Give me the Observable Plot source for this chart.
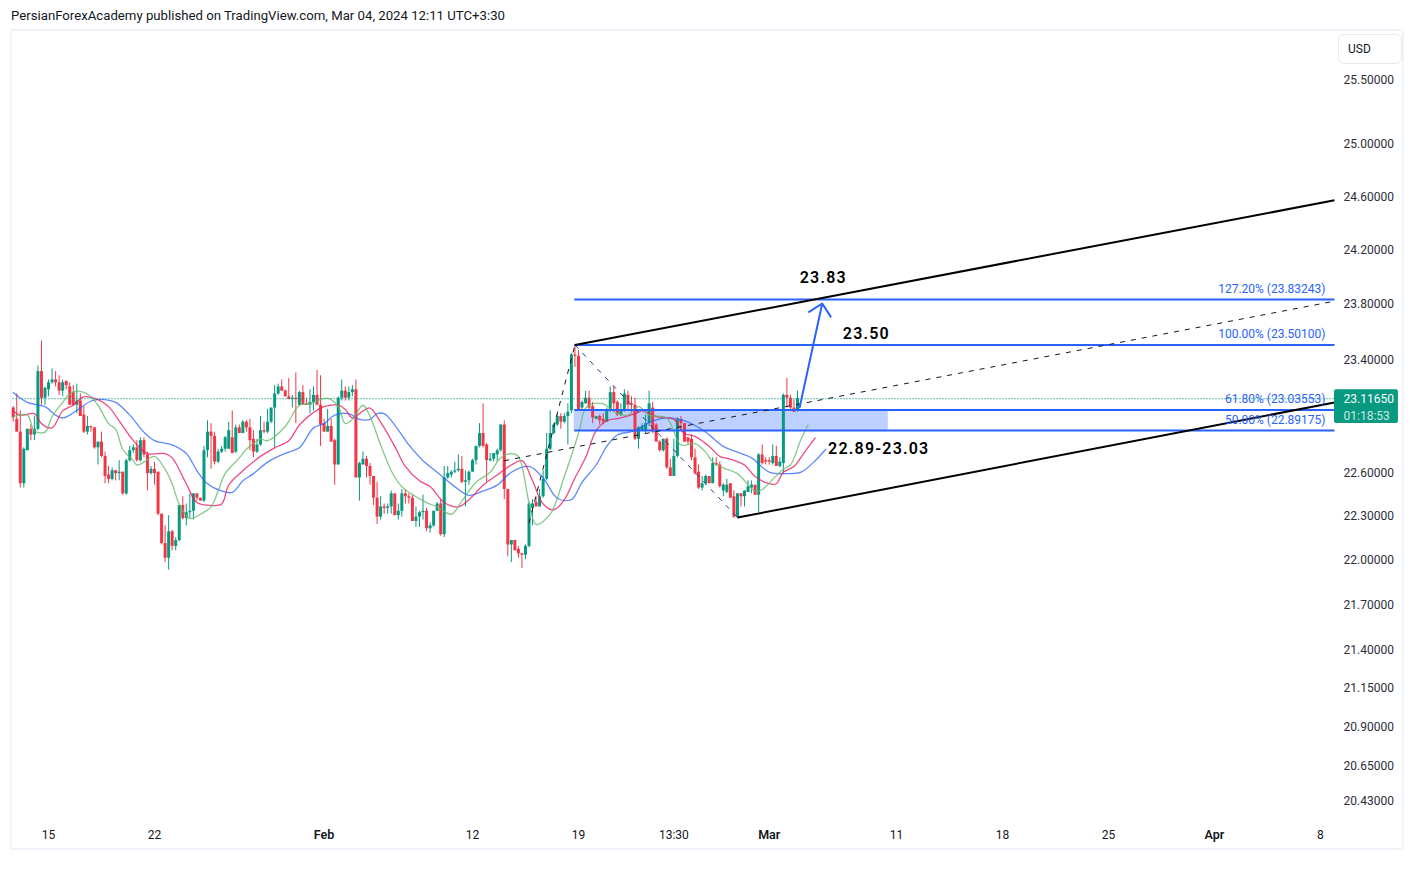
<!DOCTYPE html>
<html><head><meta charset="utf-8">
<style>
html,body{margin:0;padding:0;background:#fff;width:1414px;height:887px;overflow:hidden}
#chart{position:absolute;left:0;top:0}
#head{position:absolute;left:11px;top:8px;font:13.2px Roboto,sans-serif;color:#131722;white-space:nowrap}
#frame{position:absolute;left:10px;top:29px;width:1390px;height:817px;border:2px solid #f0f3fa;border-radius:2px;pointer-events:none}
#usd{position:absolute;left:1338px;top:34px;width:62px;height:28px;border:1px solid #e8eaf0;border-radius:6px;font:12px Roboto,sans-serif;color:#131722;line-height:28px;text-indent:9px;background:#fff}
</style>
<script src="https://cdn.jsdelivr.net/npm/d3@7"></script>
<script src="https://cdn.jsdelivr.net/npm/@observablehq/plot@0.6"></script>
</head><body>
<div id="head">PersianForexAcademy published on TradingView.com, Mar 04, 2024 12:11 UTC+3:30</div>
<div id="frame"></div>
<div id="chart"></div>
<div id="usd">USD</div>
<script>
const opens=[
23.05,22.97,22.88,22.52,22.75,22.90,22.86,22.90,23.31,23.12,
23.18,23.23,23.25,23.23,23.17,23.24,23.20,23.16,23.07,23.10,
23.00,22.88,22.92,22.91,22.77,22.81,22.71,22.58,22.55,22.61,
22.59,22.60,22.45,22.68,22.75,22.77,22.68,22.82,22.72,22.59,
22.62,22.60,22.31,22.11,22.01,22.19,22.09,22.13,22.37,22.28,
22.32,22.33,22.45,22.42,22.40,22.75,22.88,22.85,22.67,22.74,
22.76,22.76,22.84,22.74,22.91,22.87,22.95,22.91,22.83,22.74,
22.79,22.89,22.88,22.95,23.05,23.15,23.20,23.17,23.13,23.11,
23.12,23.07,23.16,23.08,23.07,23.09,23.14,23.07,22.94,22.88,
22.92,22.82,22.65,23.12,23.17,23.12,23.16,23.18,22.56,22.65,
22.69,22.64,22.57,22.42,22.29,22.36,22.35,22.36,22.45,22.30,
22.33,22.45,22.43,22.42,22.26,22.29,22.32,22.33,22.21,22.23,
22.33,22.38,22.17,22.56,22.58,22.60,22.61,22.62,22.53,22.54,
22.60,22.68,22.78,22.87,22.79,22.68,22.69,22.72,22.75,22.93,
22.48,22.10,22.13,22.07,22.04,22.03,22.09,22.35,22.39,22.36,
22.43,22.55,22.76,22.87,22.93,22.99,22.95,22.99,23.03,23.43,
23.42,23.05,23.08,23.12,23.06,22.97,22.99,22.97,22.95,23.03,
23.16,23.09,23.00,23.03,23.14,23.08,23.07,22.83,22.89,22.89,
22.94,23.05,22.93,22.81,22.75,22.83,22.63,22.57,22.71,22.97,
22.94,22.84,22.83,22.70,22.60,22.49,22.52,22.57,22.52,22.66,
22.65,22.47,22.46,22.52,22.43,22.29,22.45,22.43,22.46,22.49,
22.51,22.44,22.72,22.68,22.68,22.66,22.71,22.64,22.66,23.14,
23.12,23.05,23.03];
const highs=[
23.06,23.15,23.03,22.77,22.90,22.93,22.99,23.35,23.53,23.20,
23.25,23.33,23.31,23.28,23.25,23.24,23.23,23.21,23.22,23.15,
23.06,22.99,22.92,22.91,22.81,22.88,22.74,22.64,22.63,22.61,
22.68,22.60,22.69,22.78,22.79,22.82,22.84,22.84,22.74,22.64,
22.67,22.60,22.31,22.23,22.30,22.20,22.15,22.37,22.43,22.38,
22.45,22.45,22.45,22.42,22.78,22.96,22.94,22.88,22.76,22.78,
22.85,22.95,23.03,22.93,22.93,22.96,22.96,22.97,22.89,22.83,
22.99,22.95,23.04,23.05,23.21,23.22,23.25,23.18,23.26,23.14,
23.30,23.17,23.21,23.12,23.18,23.20,23.32,23.28,22.97,23.04,
22.97,22.83,23.13,23.25,23.20,23.20,23.21,23.25,22.67,22.74,
22.71,22.66,22.57,22.53,22.43,22.38,22.38,22.47,22.45,22.38,
22.48,22.48,22.45,22.44,22.36,22.33,22.44,22.35,22.25,22.33,
22.39,22.41,22.64,22.64,22.61,22.67,22.72,22.71,22.61,22.61,
22.69,22.78,22.94,23.08,22.80,22.73,22.73,22.76,22.93,22.96,
22.48,22.13,22.13,22.09,22.04,22.10,22.39,22.41,22.43,22.48,
22.61,22.87,23.03,22.94,23.00,23.01,23.01,23.08,23.44,23.50,
23.46,23.10,23.17,23.17,23.09,22.99,23.00,23.01,23.05,23.20,
23.20,23.10,23.08,23.18,23.17,23.13,23.12,22.92,22.94,23.00,
23.17,23.09,22.94,22.82,22.83,22.84,22.69,22.83,22.98,22.99,
22.94,22.84,22.86,22.76,22.65,22.57,22.58,22.57,22.70,22.70,
22.67,22.52,22.55,22.52,22.47,22.45,22.45,22.47,22.54,22.54,
22.51,22.73,22.79,22.70,22.70,22.79,22.78,22.70,23.15,23.26,
23.14,23.11,23.17];
const lows=[
22.95,22.88,22.49,22.49,22.75,22.82,22.82,22.89,23.07,23.07,
23.13,23.22,23.20,23.14,23.13,23.18,23.07,23.06,23.01,22.99,
22.87,22.86,22.88,22.76,22.65,22.70,22.52,22.52,22.54,22.54,
22.54,22.44,22.44,22.67,22.73,22.67,22.67,22.70,22.47,22.58,
22.51,22.30,22.10,21.98,21.93,22.06,22.06,22.12,22.27,22.23,
22.28,22.27,22.40,22.40,22.39,22.70,22.62,22.65,22.66,22.73,
22.74,22.76,22.73,22.73,22.87,22.87,22.88,22.75,22.70,22.73,
22.78,22.87,22.87,22.94,22.77,23.14,23.17,23.13,23.11,23.05,
22.94,23.06,23.07,23.07,23.01,23.03,23.07,22.78,22.88,22.88,
22.81,22.51,22.65,23.10,23.10,23.10,23.13,22.56,22.40,22.65,
22.56,22.51,22.37,22.24,22.27,22.31,22.31,22.31,22.30,22.27,
22.29,22.38,22.38,22.26,22.22,22.22,22.27,22.19,22.18,22.22,
22.33,22.16,22.15,22.55,22.56,22.59,22.60,22.52,22.36,22.51,
22.60,22.65,22.77,22.77,22.53,22.67,22.67,22.67,22.74,22.41,
22.02,21.98,22.06,22.01,21.94,22.00,22.08,22.23,22.36,22.36,
22.42,22.54,22.75,22.86,22.92,22.90,22.94,22.79,23.01,23.34,
23.03,23.03,23.08,23.03,22.94,22.97,22.93,22.93,22.95,23.02,
23.02,22.99,22.99,23.02,23.04,23.01,22.82,22.76,22.89,22.87,
22.92,22.87,22.81,22.74,22.74,22.62,22.57,22.57,22.70,22.89,
22.81,22.79,22.68,22.58,22.48,22.47,22.51,22.52,22.52,22.64,
22.49,22.43,22.45,22.42,22.28,22.28,22.36,22.36,22.46,22.45,
22.44,22.32,22.65,22.65,22.65,22.65,22.64,22.63,22.59,23.05,
23.03,23.02,23.02];
const closes=[
22.98,22.88,22.52,22.76,22.90,22.86,22.90,23.31,23.12,23.19,
23.23,23.25,23.23,23.17,23.23,23.21,23.07,23.07,23.10,22.99,
22.88,22.92,22.91,22.77,22.81,22.71,22.57,22.55,22.61,22.59,
22.60,22.45,22.68,22.75,22.77,22.68,22.82,22.72,22.59,22.62,
22.59,22.31,22.11,22.01,22.19,22.09,22.13,22.37,22.28,22.32,
22.33,22.45,22.42,22.40,22.75,22.88,22.85,22.67,22.74,22.76,
22.84,22.89,22.73,22.91,22.87,22.95,22.91,22.82,22.74,22.79,
22.89,22.88,22.95,23.05,23.15,23.20,23.17,23.13,23.11,23.12,
23.11,23.16,23.07,23.07,23.09,23.14,23.07,22.93,22.88,22.92,
22.81,22.65,23.12,23.17,23.12,23.16,23.18,22.56,22.66,22.69,
22.64,22.57,22.42,22.29,22.36,22.35,22.36,22.45,22.30,22.33,
22.45,22.43,22.42,22.26,22.29,22.32,22.33,22.21,22.23,22.33,
22.38,22.17,22.56,22.59,22.60,22.61,22.62,22.53,22.54,22.60,
22.68,22.78,22.87,22.78,22.68,22.69,22.73,22.75,22.93,22.48,
22.10,22.13,22.06,22.04,22.03,22.09,22.38,22.38,22.36,22.43,
22.55,22.76,22.87,22.93,22.99,22.95,22.99,23.02,23.43,23.42,
23.04,23.09,23.12,23.05,22.98,22.99,22.96,22.95,23.04,23.16,
23.08,23.00,23.04,23.15,23.07,23.07,22.83,22.91,22.92,22.94,
23.08,22.88,22.81,22.75,22.83,22.63,22.57,22.71,22.97,22.94,
22.81,22.81,22.70,22.59,22.49,22.52,22.57,22.52,22.66,22.65,
22.50,22.51,22.51,22.42,22.29,22.45,22.43,22.47,22.50,22.51,
22.44,22.72,22.66,22.67,22.67,22.71,22.64,22.67,23.14,23.12,
23.05,23.02,23.1165];

const jawBars=[0,4,9,12,14,16,19,22,26,29,33,37,40,45,49,52,55,59,62,65,68,72,75,78,81,85,88,91,95,98,101,103,105,108,112,116,120,125,129,133,137,141,146,150,154,158,161,165,168,171,176,181,186,191,196,201,205,209,214,219,223,227,230];
const jawPrices=[23.16,23.09,23.06,23.00,22.98,23.00,23.05,23.10,23.11,23.09,23.00,22.88,22.82,22.79,22.73,22.61,22.52,22.47,22.46,22.54,22.59,22.67,22.71,22.74,22.77,22.91,22.94,23.00,23.01,22.97,22.97,23.01,23.01,22.93,22.79,22.68,22.60,22.50,22.44,22.47,22.51,22.60,22.64,22.56,22.42,22.41,22.53,22.65,22.78,22.86,22.89,22.96,22.98,22.95,22.88,22.78,22.74,22.70,22.60,22.59,22.60,22.68,22.76];
const teethBars=[0,2,6,8,11,14,17,20,24,27,30,34,38,43,45,49,52,56,59,61,65,70,74,78,81,84,88,92,94,96,99,101,104,108,111,115,118,122,126,129,133,137,141,144,147,150,153,156,159,162,165,168,172,176,178,182,187,190,193,197,200,203,207,210,214,216,218,221,224,227];
const teethPrices=[23.03,23.00,23.01,22.94,22.91,23.03,23.07,23.13,23.11,23.06,22.96,22.82,22.73,22.73,22.70,22.52,22.39,22.37,22.38,22.51,22.61,22.71,22.77,22.82,22.93,23.00,23.06,23.07,23.04,22.98,23.03,23.05,22.95,22.78,22.64,22.54,22.50,22.39,22.36,22.41,22.51,22.58,22.65,22.68,22.54,22.38,22.34,22.41,22.56,22.70,22.89,22.96,22.98,23.01,23.03,22.99,22.97,22.87,22.85,22.78,22.71,22.69,22.65,22.57,22.52,22.52,22.60,22.64,22.74,22.84];
const lipsBars=[0,4,6,9,11,14,16,18,21,24,27,29,31,34,35,37,40,43,45,47,50,53,56,58,60,64,66,70,72,77,81,84,87,89,92,94,96,99,101,104,107,110,114,117,120,124,127,131,135,138,141,143,146,148,152,156,160,162,164,167,171,174,177,180,185,189,193,196,198,201,205,210,212,215,218,220,223,225];
const lipsPrices=[22.99,23.00,22.89,22.88,22.99,23.09,23.15,23.17,23.15,23.07,22.94,22.90,22.76,22.68,22.65,22.67,22.71,22.62,22.52,22.38,22.28,22.31,22.36,22.47,22.59,22.70,22.76,22.83,22.82,22.92,23.07,23.08,23.11,23.12,23.06,22.94,22.97,23.07,22.99,22.79,22.61,22.50,22.43,22.39,22.36,22.31,22.40,22.53,22.60,22.70,22.73,22.71,22.39,22.24,22.31,22.57,22.87,23.05,23.08,23.08,23.01,23.00,23.06,23.00,22.98,22.79,22.80,22.74,22.67,22.63,22.59,22.47,22.48,22.55,22.62,22.65,22.83,22.93];

const priceTicks=[25.5,25,24.6,24.2,23.8,23.4,22.6,22.3,22,21.7,21.4,21.15,20.9,20.65,20.43];
const dayBars=[10,40,130,160,187,250,280,310,370];
const dayLabels=["15","22","12","19","13:30","11","18","25","8"];
const monthBars=[88,214,340];
const monthLabels=["Feb","Mar","Apr"];

const fibStart=158.8, fibEnd=374, zoneEnd=247.7;
const fibLevels=[23.83243,23.501,23.03553,22.89175];
const fibNames=["127.20% (23.83243)","100.00% (23.50100)","61.80% (23.03553)","50.00% (22.89175)"];
const lastPrice=23.1165, lastTimer="01:18:53";
const channelRows=[{x1:159,y1:23.501,x2:374,y2:24.57},{x1:205,y1:22.287,x2:374,y2:23.09}];
const dashedBlack=[{x1:139,y1:22.68,x2:374,y2:23.82},{x1:146,y1:22.25,x2:159,y2:23.501}];
const dashedBlue=[{x1:159,y1:23.501,x2:205,y2:22.287}];
const arrowRow=[{x1:222.6,y1:23.054,x2:229,y2:23.803}];
const callouts=[{x:229.3,y:23.99,t:"23.83"},{x:241.5,y:23.58,t:"23.50"},{x:245,y:22.76,t:"22.89-23.03"}];
const tagBox=[{x1:374,x2:392.1,y1:22.94,y2:23.18}];

const GREEN="#089981",RED="#f23645",BLUE="#2962ff";
const bars=opens.map((o,i)=>({i,o,h:highs[i],l:lows[i],c:closes[i]}));
const col=d=>d.c>=d.o?GREEN:RED;
const pts=(xs,ys)=>xs.map((x,k)=>({x,y:ys[k]}));
const font="Roboto, sans-serif";
const lineM=(xs,ys,stroke,op)=>Plot.line(pts(xs,ys),{x:"x",y:"y",stroke,strokeWidth:1.3,strokeOpacity:op,curve:"catmull-rom"});
const spaced=(index,scales,values,dims,ctx,next)=>{const g=next(index,scales,values,dims,ctx);g.style.letterSpacing="1.2px";return g;};

const fibs=fibLevels.map((p,k)=>({p,name:fibNames[k],x1:fibStart,x2:fibEnd}));

const chart=Plot.plot({
  width:1414,height:887,marginLeft:12,marginRight:80,marginTop:30,marginBottom:67,
  style:{background:"transparent",fontFamily:font},
  x:{domain:[-0.2,374],axis:null},
  y:{type:"log",domain:[20.305,25.887],axis:null},
  marks:[
    Plot.rect([{x1:fibStart,x2:zoneEnd,y1:fibLevels[3],y2:fibLevels[2]}],{x1:"x1",x2:"x2",y1:"y1",y2:"y2",fill:BLUE,fillOpacity:0.3}),
    Plot.ruleX(bars,{x:"i",y1:"l",y2:"h",stroke:col,strokeWidth:1}),
    Plot.ruleX(bars,{x:"i",y1:"o",y2:"c",stroke:col,strokeWidth:3}),
    lineM(jawBars,jawPrices,"#2962ff",.75),
    lineM(teethBars,teethPrices,"#e91e63",.8),
    lineM(lipsBars,lipsPrices,"#66bb6a",.8),
    Plot.link([{x1:-0.2,x2:374,p:lastPrice}],{x1:"x1",x2:"x2",y1:"p",y2:"p",stroke:GREEN,strokeWidth:1.2,strokeDasharray:"1 2"}),
    Plot.link(fibs,{x1:"x1",x2:"x2",y1:"p",y2:"p",stroke:BLUE,strokeWidth:2}),
    Plot.link(dashedBlack,{x1:"x1",y1:"y1",x2:"x2",y2:"y2",stroke:"#131722",strokeWidth:1,strokeDasharray:"5 6"}),
    Plot.link(dashedBlue,{x1:"x1",y1:"y1",x2:"x2",y2:"y2",stroke:"#1c3f94",strokeWidth:1,strokeDasharray:"5 6"}),
    Plot.link(channelRows,{x1:"x1",y1:"y1",x2:"x2",y2:"y2",stroke:"#000",strokeWidth:2}),
    Plot.arrow(arrowRow,{x1:"x1",y1:"y1",x2:"x2",y2:"y2",stroke:BLUE,strokeWidth:2,headLength:11.7,headAngle:90}),
    Plot.text(fibs,{x:"x2",y:"p",text:"name",dx:-9,dy:-10.5,textAnchor:"end",fill:BLUE,fontSize:12,fontFamily:font}),
    Plot.text(callouts,{x:"x",y:"y",text:"t",fill:"#000",fontSize:16,fontWeight:600,fontFamily:"Roboto",textAnchor:"middle",render:spaced}),
    Plot.rect(tagBox,{x1:"x1",x2:"x2",y1:"y1",y2:"y2",fill:GREEN,r:2}),
    Plot.text([{x:374,p:lastPrice,t:lastPrice.toFixed(5)}],{x:"x",y:"p",text:"t",dx:9,dy:0,textAnchor:"start",fill:"#fff",fontSize:12,fontFamily:font}),
    Plot.text([{x:374,p:22.99,t:lastTimer}],{x:"x",y:"p",text:"t",dx:9,textAnchor:"start",fill:"#fff",fillOpacity:.8,fontSize:12,fontFamily:font}),
    Plot.axisY(priceTicks,{anchor:"right",label:null,tickSize:0,tickPadding:9,dy:0.7,tickFormat:d=>d.toFixed(5),fontSize:12,fill:"#2a2e39",fontFamily:font}),
    Plot.axisX(dayBars,{anchor:"bottom",label:null,tickSize:0,tickPadding:10,tickFormat:d=>dayLabels[dayBars.indexOf(d)],fontSize:12,fill:"#131722",fontFamily:font}),
    Plot.axisX(monthBars,{anchor:"bottom",label:null,tickSize:0,tickPadding:10,tickFormat:d=>monthLabels[monthBars.indexOf(d)],fontSize:12.5,fontWeight:600,fill:"#131722",fontFamily:font})
  ]
});
document.getElementById("chart").appendChild(chart);
</script>
</body></html>
